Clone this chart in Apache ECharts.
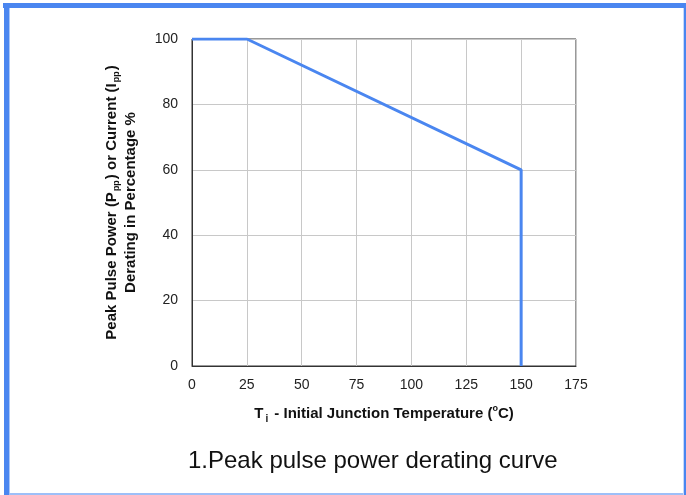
<!DOCTYPE html>
<html><head><meta charset="utf-8">
<script src="https://cdn.jsdelivr.net/npm/echarts@6/dist/echarts.min.js"></script>
<style>html,body{margin:0;padding:0;background:#fff}#c{width:686px;height:495px}</style>
</head><body><div id="c"></div>
<script>
const temps = [0, 25, 150, 150];
const derating = [100, 100, 60, 0];
const xTicks = [0, 25, 50, 75, 100, 125, 150, 175];
const yTicks = [0, 20, 40, 60, 80, 100];
const caption = '1.Peak pulse power derating curve';

const chart = echarts.init(document.getElementById('c'));
const narrow = '"Liberation Sans", Arial, sans-serif';
chart.setOption({
  animation: false,
  grid: {left: 192, right: 110, top: 39, bottom: 129, show: true, borderColor: '#333', borderWidth: 1},
  xAxis: {
    type: 'value', min: 0, max: 175, interval: 25,
    axisLine: {show: true, lineStyle: {color: '#333'}},
    axisTick: {show: false},
    splitLine: {show: true, lineStyle: {color: '#c8c8c8'}},
    axisLabel: {color: '#222', fontFamily: narrow, fontSize: 14, margin: 12},
    name: '{b|T}{s|i}{b| - Initial Junction Temperature (}{sup|o}{b|C)}',
    nameLocation: 'middle', nameGap: 38,
    nameTextStyle: {
      rich: {
        b: {fontFamily: narrow, fontWeight: 'bold', fontSize: 15, color: '#111'},
        s: {fontFamily: narrow, fontWeight: 'bold', fontSize: 10, color: '#111', verticalAlign: 'bottom', padding: [10,2,0,2]},
        sup: {fontFamily: narrow, fontWeight: 'bold', fontSize: 9, color: '#111', verticalAlign: 'top', padding: [0,0,6,0]}
      }
    }
  },
  yAxis: {
    type: 'value', min: 0, max: 100, interval: 20,
    axisLine: {show: true, lineStyle: {color: '#333'}},
    axisTick: {show: false},
    splitLine: {show: true, lineStyle: {color: '#c8c8c8'}},
    axisLabel: {color: '#222', fontFamily: narrow, fontSize: 14, margin: 14},
    name: '{b|Peak Pulse Power (P}{s|pp}{b|) or Current (I}{s|pp}{b|)}\n{b|Derating in Percentage %}',
    nameLocation: 'middle', nameGap: 52, nameRotate: 90,
    nameTextStyle: {
      lineHeight: 19,
      rich: {
        b: {fontFamily: narrow, fontWeight: 'bold', fontSize: 15, color: '#111', lineHeight: 19},
        s: {fontFamily: narrow, fontWeight: 'bold', fontSize: 9, color: '#111', verticalAlign: 'bottom', padding: [6,1,0,1], lineHeight: 19}
      }
    }
  },
  series: [{
    type: 'line', data: temps.map((t, i) => [t, derating[i]]),
    showSymbol: false, lineStyle: {color: '#4a86f0', width: 3}, z: 5
  }],
  graphic: [
    {type: 'rect', shape: {x: 3, y: 3, width: 683, height: 5}, style: {fill: '#4a86f0'}, silent: true},
    {type: 'rect', shape: {x: 4, y: 3, width: 5, height: 492}, style: {fill: '#4a86f0'}, silent: true},
    {type: 'rect', shape: {x: 9, y: 8, width: 1, height: 487}, style: {fill: '#a9c6f8'}, silent: true},
    {type: 'rect', shape: {x: 9, y: 493, width: 675, height: 2}, style: {fill: '#9dbff8'}, silent: true},
    {type: 'rect', shape: {x: 683, y: 8, width: 1, height: 487}, style: {fill: '#c6d9fa'}, silent: true},
    {type: 'rect', shape: {x: 684, y: 3, width: 2, height: 492}, style: {fill: '#4a86f0'}, silent: true},
    {type: 'text', left: 188, top: 449, style: {text: caption, font: '24px "Liberation Sans", Arial, sans-serif', fill: '#111'}}
  ]
});
</script></body></html>
